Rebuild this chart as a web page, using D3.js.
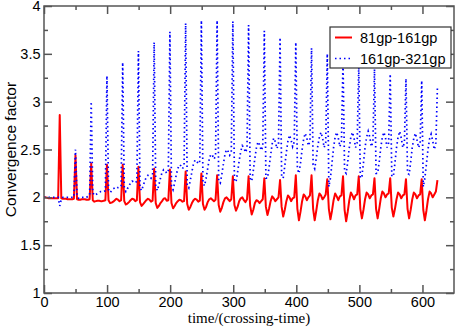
<!DOCTYPE html>
<html><head><meta charset="utf-8">
<script src="https://cdn.jsdelivr.net/npm/d3@7"></script>
<style>
body{margin:0;background:#fff}
svg{display:block}
</style></head><body>
<script>
// sampling step of the time series (time/(crossing-time) units)
const timeStep = 2.495;
const seriesNames = ["81gp-161gp", "161gp-321gp"];
const seriesColors = ["#ff0000", "#0000ff"];

const red81 = [
2.00,2.00,1.995,1.99,1.99,1.99,1.99,1.99,1.99,1.99,
2.86,1.99,1.985,1.985,1.985,1.98,1.98,1.98,1.98,1.985,
2.44,1.98,1.975,1.975,1.98,1.98,1.98,1.975,1.975,1.98,
2.35,1.97,1.955,1.96,1.965,1.965,1.96,1.96,1.965,1.97,
2.34,1.97,1.94,1.945,1.955,1.97,1.985,1.975,1.96,1.97,
2.34,1.96,1.925,1.935,1.95,1.97,1.985,1.98,1.96,1.97,
2.32,1.95,1.91,1.93,1.95,1.97,1.985,1.975,1.955,1.965,
2.30,1.94,1.89,1.91,1.94,1.96,1.985,1.99,1.965,1.97,
2.29,1.94,1.885,1.91,1.94,1.96,1.975,1.97,1.955,1.96,
2.27,1.93,1.87,1.90,1.94,1.97,1.985,1.975,1.955,1.965,
2.25,1.93,1.87,1.90,1.95,1.98,1.99,1.975,1.96,1.975,
2.23,1.92,1.85,1.89,1.95,1.99,2.00,1.98,1.96,1.98,
2.22,1.92,1.86,1.90,1.96,1.99,2.00,1.97,1.95,1.98,
2.22,1.91,1.82,1.87,1.94,1.97,1.96,1.94,1.96,1.98,
2.20,1.90,1.815,1.88,1.96,2.01,1.99,1.96,1.98,2.00,
2.18,1.90,1.80,1.87,1.96,2.02,2.00,1.96,1.99,2.00,
2.23,1.88,1.76,1.85,1.96,2.03,2.01,1.97,2.00,2.02,
2.23,1.88,1.76,1.86,1.97,2.04,2.02,1.98,2.00,2.03,
2.19,1.88,1.77,1.86,1.97,2.04,2.01,1.97,2.01,2.02,
2.22,1.87,1.75,1.85,1.97,2.05,2.02,1.98,2.02,2.03,
2.22,1.88,1.78,1.87,1.98,2.05,2.03,1.99,2.02,2.03,
2.20,1.88,1.78,1.88,1.99,2.06,2.04,2.00,2.03,2.04,
2.20,1.89,1.80,1.88,1.98,2.05,2.03,1.99,2.02,2.03,
2.19,1.88,1.78,1.87,1.98,2.05,2.03,1.99,2.02,2.03,
2.19,1.87,1.76,1.86,1.98,2.06,2.04,2.00,2.03,2.06,
2.18
];

const blue161 = [
2.00,2.00,2.00,2.00,2.00,2.00,2.00,2.00,2.00,2.00,
1.91,1.98,2.00,2.00,2.00,2.00,2.00,2.00,2.00,2.00,
2.50,2.02,1.99,2.00,2.00,2.00,2.00,2.00,2.01,2.02,
3.00,2.05,2.02,2.03,2.04,2.05,2.06,2.06,2.06,2.07,
3.27,2.08,2.05,2.07,2.09,2.10,2.11,2.10,2.10,2.12,
3.41,2.10,2.06,2.09,2.12,2.15,2.17,2.16,2.15,2.17,
3.53,2.10,2.07,2.12,2.17,2.21,2.23,2.22,2.20,2.23,
3.62,2.12,2.07,2.13,2.20,2.26,2.29,2.28,2.25,2.28,
3.73,2.12,2.08,2.15,2.23,2.30,2.34,2.33,2.30,2.33,
3.82,2.13,2.10,2.18,2.27,2.35,2.39,2.38,2.35,2.38,
3.85,2.15,2.12,2.20,2.30,2.40,2.45,2.44,2.40,2.43,
3.85,2.17,2.15,2.24,2.35,2.45,2.50,2.48,2.44,2.47,
3.84,2.18,2.16,2.26,2.38,2.48,2.54,2.52,2.47,2.51,
3.80,2.20,2.17,2.28,2.41,2.52,2.58,2.55,2.49,2.53,
3.74,2.20,2.20,2.31,2.44,2.56,2.62,2.58,2.51,2.56,
3.67,2.22,2.20,2.33,2.47,2.59,2.65,2.60,2.53,2.58,
3.62,2.30,2.25,2.36,2.50,2.61,2.67,2.62,2.54,2.59,
3.56,2.34,2.30,2.41,2.54,2.63,2.68,2.62,2.52,2.57,
3.50,2.11,2.20,2.36,2.52,2.63,2.68,2.62,2.53,2.58,
3.43,2.27,2.25,2.37,2.52,2.63,2.68,2.62,2.52,2.57,
3.38,2.20,2.22,2.36,2.52,2.63,2.69,2.63,2.53,2.58,
3.34,2.25,2.25,2.37,2.52,2.63,2.68,2.62,2.52,2.57,
3.29,2.22,2.22,2.36,2.52,2.63,2.69,2.62,2.52,2.57,
3.24,2.25,2.24,2.37,2.52,2.62,2.67,2.60,2.52,2.56,
3.22,2.11,2.20,2.35,2.50,2.61,2.66,2.59,2.50,2.57,
3.16
];

const xMajorTicks = [0, 100, 200, 300, 400, 500, 600];
const xMinorTicks = [50, 150, 250, 350, 450, 550];
const yMajorTicks = [1, 1.5, 2, 2.5, 3, 3.5, 4];
const yMinorTicks = [1.25, 1.75, 2.25, 2.75, 3.25, 3.75];
const xTitle = "time/(crossing-time)";
const yTitle = "Convergence factor";

const W = 455, H = 327;
const L = 44, R = 454, T = 6, B = 293;
const axisColor = "#555";
const sans = "'Liberation Sans', Arial, Helvetica, sans-serif";
const serif = "'Liberation Serif', 'Times New Roman', serif";
const dotted = "1.5,3";

const svg = d3.select("body").append("svg").attr("width", W).attr("height", H);
const x = d3.scaleLinear().domain([0, 650]).range([L, R]);
const y = d3.scaleLinear().domain([1, 4]).range([B, T]);

// data lines
const line = d3.line().x((d, i) => x(i * timeStep)).y(d => y(d));
const plot = svg.append("g");
plot.append("path").datum(red81)
  .attr("d", line).attr("fill", "none")
  .attr("stroke", seriesColors[0]).attr("stroke-width", 2)
  .attr("stroke-linejoin", "round");
plot.append("path").datum(blue161)
  .attr("d", line).attr("fill", "none")
  .attr("stroke", seriesColors[1]).attr("stroke-width", 1.7)
  .attr("stroke-dasharray", dotted);

function styleAxis(g) {
  g.selectAll(".domain").remove();
  g.selectAll(".tick line").attr("stroke", axisColor).attr("stroke-width", 1.5);
  g.selectAll(".tick text").attr("fill", "#000").attr("font-family", sans).attr("font-size", 14.5);
}

// bottom
svg.append("g").attr("transform", `translate(0,${B})`)
  .call(d3.axisBottom(x).tickValues(xMajorTicks).tickSize(-8).tickPadding(3.5).tickFormat(d3.format("d")))
  .call(styleAxis);
svg.append("g").attr("transform", `translate(0,${B})`)
  .call(d3.axisBottom(x).tickValues(xMinorTicks).tickSize(-4).tickFormat(""))
  .call(styleAxis);
// top
svg.append("g").attr("transform", `translate(0,${T})`)
  .call(d3.axisTop(x).tickValues(xMajorTicks).tickSize(-8).tickFormat(""))
  .call(styleAxis);
svg.append("g").attr("transform", `translate(0,${T})`)
  .call(d3.axisTop(x).tickValues(xMinorTicks).tickSize(-4).tickFormat(""))
  .call(styleAxis);
// left
svg.append("g").attr("transform", `translate(${L},0)`)
  .call(d3.axisLeft(y).tickValues(yMajorTicks).tickSize(-8).tickPadding(3.5).tickFormat(d3.format("")))
  .call(styleAxis);
svg.append("g").attr("transform", `translate(${L},0)`)
  .call(d3.axisLeft(y).tickValues(yMinorTicks).tickSize(-4).tickFormat(""))
  .call(styleAxis);
// right
svg.append("g").attr("transform", `translate(${R},0)`)
  .call(d3.axisRight(y).tickValues(yMajorTicks).tickSize(-8).tickFormat(""))
  .call(styleAxis);
svg.append("g").attr("transform", `translate(${R},0)`)
  .call(d3.axisRight(y).tickValues(yMinorTicks).tickSize(-4).tickFormat(""))
  .call(styleAxis);

// frame
svg.append("rect").attr("x", L).attr("y", T).attr("width", R - L).attr("height", B - T)
  .attr("fill", "none").attr("stroke", axisColor).attr("stroke-width", 1.5);

// titles
svg.append("text").attr("x", (L + R) / 2).attr("y", 322.5)
  .attr("text-anchor", "middle").attr("font-family", serif).attr("font-size", 15)
  .text(xTitle);
svg.append("text").attr("transform", `translate(15.5,${(T + B) / 2}) rotate(-90)`)
  .attr("text-anchor", "middle").attr("font-family", sans).attr("font-size", 15.5)
  .text(yTitle);

// legend
const lg = svg.append("g");
lg.append("rect").attr("x", 330).attr("y", 27).attr("width", 121).attr("height", 41)
  .attr("fill", "#fff").attr("stroke", "#333").attr("stroke-width", 1.2);
const legendRows = [
  {name: seriesNames[0], color: seriesColors[0], dash: null, w: 2, cy: 37.5},
  {name: seriesNames[1], color: seriesColors[1], dash: dotted, w: 1.7, cy: 58.5}
];
legendRows.forEach(r => {
  lg.append("line").attr("x1", 335).attr("x2", 352).attr("y1", r.cy).attr("y2", r.cy)
    .attr("stroke", r.color).attr("stroke-width", r.w)
    .attr("stroke-dasharray", r.dash);
  lg.append("text").attr("x", 360).attr("y", r.cy + 5)
    .attr("font-family", sans).attr("font-size", 14.5).text(r.name);
});
</script>
</body></html>
